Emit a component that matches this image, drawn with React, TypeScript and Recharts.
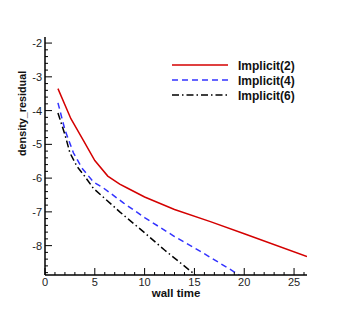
import React from 'react';
import { LineChart, Line, XAxis, YAxis } from 'recharts';

const redX = [1.3, 2.6, 3.85, 5.0, 6.3, 7.5, 8.3, 10.0, 13.0, 16.6, 20.0, 26.3];
const redY = [-3.35, -4.24, -4.88, -5.48, -5.94, -6.18, -6.3, -6.56, -6.93, -7.29, -7.65, -8.32];

const blueX = [1.3, 2.0, 2.85, 3.7, 4.85, 5.9, 7.9, 10.0, 13.0, 15.6, 18.9, 19.5];
const blueY = [-3.77, -4.57, -5.25, -5.7, -6.11, -6.3, -6.74, -7.17, -7.73, -8.17, -8.76, -8.87];

const blackX = [1.3, 2.0, 2.5, 3.2, 4.0, 4.85, 7.5, 10.0, 12.0, 15.1];
const blackY = [-4.07, -4.71, -5.25, -5.65, -5.95, -6.3, -7.0, -7.62, -8.13, -8.87];

const seriesNames = ['Implicit(2)', 'Implicit(4)', 'Implicit(6)'];
const seriesColors = ['#d40000', '#3333ff', '#000000'];
const seriesDash = ['', '6 4', '7 3 1.5 3'];

const xMajor = [0, 5, 10, 15, 20, 25];
const xTicks = Array.from({ length: 27 }, (_, i) => i);
const yMajor = [-8, -7, -6, -5, -4, -3, -2];
const yTicks = Array.from({ length: 35 }, (_, i) => Math.round((-8.8 + i * 0.2) * 10) / 10);

const toData = (xs: number[], ys: number[]) => xs.map((x, i) => ({ x, y: ys[i] }));
const redData = toData(redX, redY);
const blueData = toData(blueX, blueY);
const blackData = toData(blackX, blackY);

const FONT = 'Liberation Sans, Arial, sans-serif';

const XTick = (props: any) => {
  const { x, y, payload } = props;
  const v = payload.value;
  const major = xMajor.includes(v);
  return (
    <g>
      <line x1={x} y1={y} x2={x} y2={y - (major ? 7 : 3)} stroke="#000" strokeWidth={1} />
      {major && (
        <text x={x} y={y + 11} textAnchor="middle" fontSize={11} fontFamily={FONT} fill="#222">
          {v}
        </text>
      )}
    </g>
  );
};

const YTick = (props: any) => {
  const { x, y, payload } = props;
  const v = payload.value;
  const major = yMajor.some((m) => Math.abs(m - v) < 1e-6);
  return (
    <g>
      <line x1={x} y1={y} x2={x + (major ? 7 : 3)} y2={y} stroke="#000" strokeWidth={1} />
      {major && (
        <text x={x - 3} y={y + 4} textAnchor="end" fontSize={11} fontFamily={FONT} fill="#222">
          {v}
        </text>
      )}
    </g>
  );
};

const LegendOverlay = () => (
  <svg width={140} height={50} style={{ position: 'absolute', left: 172, top: 58 }}>
    {seriesNames.map((n, i) => (
      <g key={n}>
        <line x1={0} y1={7 + i * 15} x2={56} y2={7 + i * 15} stroke={seriesColors[i]} strokeWidth={1.5} strokeDasharray={seriesDash[i] || undefined} />
        <text x={66} y={11.5 + i * 15} fontSize={12} fontWeight="bold" fontFamily={FONT} fill="#111">
          {n}
        </text>
      </g>
    ))}
  </svg>
);

export default function App() {
  return (
    <div style={{ position: 'absolute', left: 0, top: 0, width: 349, height: 310, background: '#fff' }}>
      <LineChart width={349} height={310} margin={{ top: 37, right: 42, bottom: 0, left: 0 }}>
        <XAxis
          type="number"
          dataKey="x"
          domain={[0, 26.3]}
          ticks={xTicks}
          interval={0}
          allowDataOverflow
          tick={<XTick />}
          tickLine={false}
          tickSize={0}
          tickMargin={0}
          height={35}
          axisLine={{ stroke: '#000', strokeWidth: 1.5 }}
          label={{ value: 'wall time', position: 'insideBottom', offset: 13, fontSize: 11.5, fontWeight: 'bold', fontFamily: FONT, fill: '#111' }}
        />
        <YAxis
          type="number"
          dataKey="y"
          domain={[-8.87, -1.82]}
          ticks={yTicks}
          interval={0}
          allowDataOverflow
          tick={<YTick />}
          tickLine={false}
          tickSize={0}
          tickMargin={0}
          width={45}
          axisLine={{ stroke: '#000', strokeWidth: 1.5 }}
          label={{ value: 'density_residual', angle: -90, position: 'insideLeft', offset: 22, fontSize: 10.8, fontWeight: 'bold', fontFamily: FONT, fill: '#111' }}
        />
        <Line data={redData} dataKey="y" stroke={seriesColors[0]} strokeWidth={1.5} dot={false} isAnimationActive={false} />
        <Line data={blueData} dataKey="y" stroke={seriesColors[1]} strokeWidth={1.5} strokeDasharray={seriesDash[1]} dot={false} isAnimationActive={false} />
        <Line data={blackData} dataKey="y" stroke={seriesColors[2]} strokeWidth={1.5} strokeDasharray={seriesDash[2]} dot={false} isAnimationActive={false} />
      </LineChart>
      <LegendOverlay />
    </div>
  );
}
